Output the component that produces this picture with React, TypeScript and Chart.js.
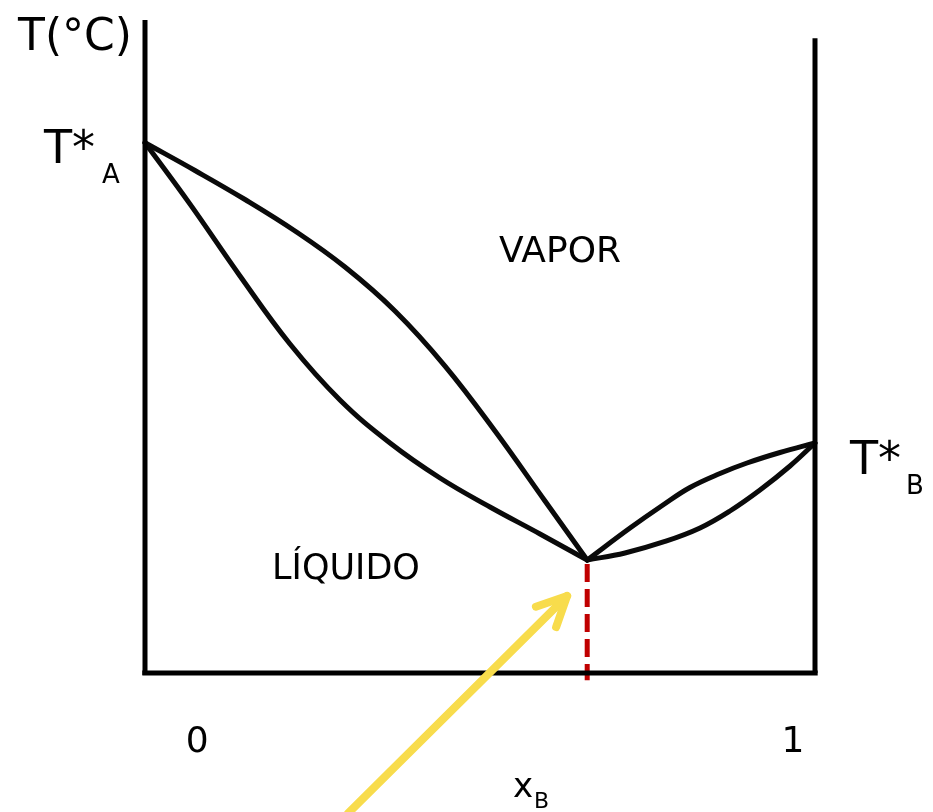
import React, { useEffect, useRef } from "react";
import { Chart, registerables } from "chart.js";

Chart.register(...registerables);

// Composition x_B (0..1) and temperature (arbitrary units, 0..100)
const vaporLeftX = [0, 0.0746, 0.1493, 0.2239, 0.2985, 0.3731, 0.4478, 0.5224, 0.597, 0.66];
const vaporLeftT = [81.2, 76.95, 72.51, 67.69, 62.17, 55.44, 47.01, 37.06, 26.34, 17.3];
const liquidLeftX = [0, 0.0672, 0.1418, 0.2164, 0.291, 0.3657, 0.4403, 0.5149, 0.5896, 0.66];
const liquidLeftT = [81.2, 71.8, 60.8, 50.38, 41.81, 35.22, 29.86, 25.42, 21.29, 17.3];
const vaporRightX = [0.66, 0.7239, 0.7731, 0.8134, 0.8582, 0.8985, 0.9478, 1];
const vaporRightT = [17.3, 22.2, 25.73, 28.41, 30.55, 32.16, 33.77, 35.22];
const liquidRightX = [0.66, 0.7164, 0.7761, 0.8284, 0.8731, 0.9179, 0.9627, 1];
const liquidRightT = [17.3, 18.38, 20.14, 22.21, 24.81, 28.02, 31.7, 35.22];

const azeotropeX = 0.66;
const azeotropeT = 17.3;
const dashBottomT = -1.1;
const leftAxisTopT = 100;
const rightAxisTopT = 97.2;
const arrowFrom = { x: 0.303, y: -21.5 };
const arrowTo = { x: 0.63, y: 11.8 };

const tickLabels = ["0", "1"];
const tickLabelX = [0.078, 0.967];

const toPts = (xs: number[], ys: number[]) => xs.map((x, i) => ({ x, y: ys[i] }));

export default function App() {
  const ref = useRef<HTMLCanvasElement | null>(null);

  useEffect(() => {
    const canvas = ref.current;
    if (!canvas) return;
    const font = "'DejaVu Sans', sans-serif";

    const curve = (data: { x: number; y: number }[]) => ({
      data,
      borderColor: "#0a0a0a",
      borderWidth: 5,
      pointRadius: 0,
      fill: false,
      tension: 0.4,
      borderCapStyle: "round" as const,
      borderJoinStyle: "round" as const,
      clip: false as any,
    });
    const straight = (data: { x: number; y: number }[], color = "#000", dash: number[] = []) => ({
      data,
      borderColor: color,
      borderWidth: 5,
      borderDash: dash,
      pointRadius: 0,
      fill: false,
      tension: 0,
      borderCapStyle: "butt" as const,
      clip: false as any,
    });

    const textPlugin = {
      id: "labels",
      afterDatasetsDraw(chart: any) {
        const { ctx, scales } = chart;
        const xs = scales.x;
        const ys = scales.y;
        const px = (v: number) => xs.getPixelForValue(v);
        const py = (v: number) => ys.getPixelForValue(v);
        ctx.save();

        // yellow arrow
        const x0 = px(arrowFrom.x), y0 = py(arrowFrom.y);
        const x1 = px(arrowTo.x), y1 = py(arrowTo.y);
        ctx.strokeStyle = "#f8dc4c";
        ctx.lineWidth = 8;
        ctx.lineCap = "round";
        ctx.lineJoin = "round";
        ctx.beginPath();
        ctx.moveTo(x0, y0);
        ctx.lineTo(x1, y1);
        ctx.stroke();
        const ang = Math.atan2(y1 - y0, x1 - x0);
        const head = 33;
        ctx.beginPath();
        ctx.moveTo(x1 + head * Math.cos(ang + Math.PI - 0.45), y1 + head * Math.sin(ang + Math.PI - 0.45));
        ctx.lineTo(x1, y1);
        ctx.lineTo(x1 + head * Math.cos(ang + Math.PI + 0.45), y1 + head * Math.sin(ang + Math.PI + 0.45));
        ctx.stroke();

        ctx.fillStyle = "#000";
        ctx.textBaseline = "alphabetic";
        ctx.textAlign = "left";

        // T(°C)
        ctx.font = `44px ${font}`;
        ctx.fillText("T(°C)", 18, 50);

        // T*A
        ctx.font = `46px ${font}`;
        ctx.fillText("T*", 44, 163);
        ctx.font = `26px ${font}`;
        ctx.fillText("A", 102, 183);

        // T*B
        ctx.font = `46px ${font}`;
        ctx.fillText("T*", 850, 474);
        ctx.font = `26px ${font}`;
        ctx.fillText("B", 906, 494);

        // region labels
        ctx.textAlign = "center";
        ctx.font = `36px ${font}`;
        ctx.fillText("VAPOR", 560, 262);
        ctx.font = `35px ${font}`;
        ctx.fillText("LÍQUIDO", 346, 579);

        // tick labels
        ctx.font = `36px ${font}`;
        tickLabels.forEach((t, i) => ctx.fillText(t, px(tickLabelX[i]), 752));

        // x_B
        ctx.textAlign = "left";
        ctx.font = `34px ${font}`;
        ctx.fillText("x", 513, 797);
        ctx.font = `22px ${font}`;
        ctx.fillText("B", 534, 808);

        ctx.restore();
      },
    };

    const chart = new Chart(canvas, {
      type: "line",
      data: {
        datasets: [
          straight([{ x: 0, y: -0.3 }, { x: 0, y: leftAxisTopT }]),
          straight([{ x: 1, y: 0 }, { x: 1, y: rightAxisTopT }]),
          straight([{ x: -0.004, y: 0 }, { x: 1.004, y: 0 }]),
          curve(toPts(vaporLeftX, vaporLeftT)),
          curve(toPts(liquidLeftX, liquidLeftT)),
          curve(toPts(vaporRightX, vaporRightT)),
          curve(toPts(liquidRightX, liquidRightT)),
          straight([{ x: azeotropeX, y: azeotropeT - 0.6 }, { x: azeotropeX, y: dashBottomT }], "#c00000", [18, 7]),
        ] as any,
      },
      options: {
        responsive: false,
        animation: false,
        parsing: false as any,
        layout: { padding: { left: 145, right: 118, top: 20, bottom: 139 } },
        scales: {
          x: { type: "linear", min: 0, max: 1, display: false },
          y: { type: "linear", min: 0, max: 100, display: false },
        },
        plugins: {
          legend: { display: false },
          tooltip: { enabled: false },
        },
        events: [],
      },
      plugins: [textPlugin],
    });
    return () => chart.destroy();
  }, []);

  return (
    <div style={{ position: "fixed", left: 0, top: 0, width: 933, height: 812, background: "#fff" }}>
      <canvas ref={ref} width={933} height={812} style={{ display: "block" }} />
    </div>
  );
}
